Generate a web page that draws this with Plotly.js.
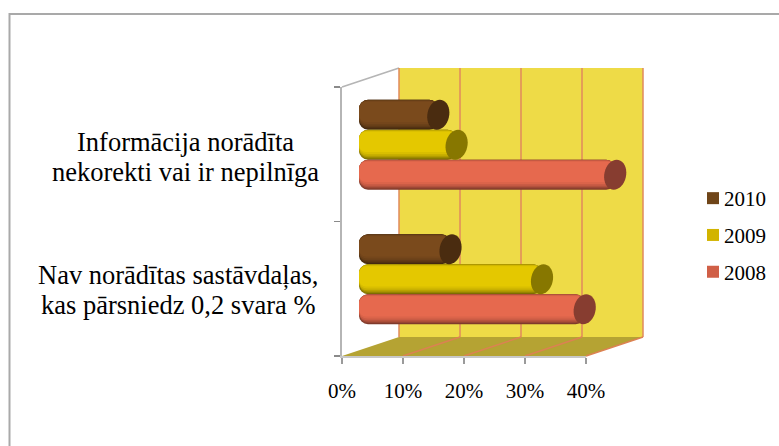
<!DOCTYPE html>
<html><head><meta charset="utf-8">
<script src="https://cdn.plot.ly/plotly-3.0.0.min.js"></script>
<style>html,body{margin:0;padding:0;background:#fff}#c{width:779px;height:446px}</style>
</head><body><div id="c"></div>
<script>
var categories = ["Nav norādītas sastāvdaļas, kas pārsniedz 0,2 svara %", "Informācija norādīta nekorekti vai ir nepilnīga"];
var categoryLines = [["Nav norādītas sastāvdaļas,", "kas pārsniedz 0,2 svara %"], ["Informācija norādīta", "nekorekti vai ir nepilnīga"]];
var years = ["2008", "2009", "2010"];
var values2008 = [37, 42];
var values2009 = [30, 16];
var values2010 = [15, 13];
var xTicks = [0, 10, 20, 30, 40];

var W = 779, H = 446;
var FONT = '"Liberation Serif","Times New Roman",serif';
var px = function (x) { return x / W; }, py = function (y) { return (H - y) / H; };
var X0 = 342, X40 = 586, YT = 87, YB = 356, DX = 57, DY = 19, BX = 359, BSHIFT = 9.5;
var sx = (X40 - X0) / 40, sy = (YB - YT) / 2;
var barH = 30 / sy;
var series = [
  { name: years[2], v: values2010, rgb: [122, 74, 28], cap: '#4a2c10', legend: '#6f4518', c: barH },
  { name: years[1], v: values2009, rgb: [228, 200, 0], cap: '#877700', legend: '#d2b400', c: 0 },
  { name: years[0], v: values2008, rgb: [230, 105, 78], cap: '#873d30', legend: '#d05f47', c: -barH }
];
var layers = [
  [0, 1, .55, 9], [0, .96, .66, 9], [.01, .92, .78, 9], [.02, .87, .88, 8],
  [.04, .81, .95, 8], [.07, .74, 1, 7]
];
function shade(rgb, f) { return 'rgb(' + rgb.map(function (c) { return Math.round(c * f); }).join(',') + ')'; }

// keeps the front axes drawn; the bars live on the depth-shifted axes x2/y2
var traces = [{ type: 'scatter', x: [null], y: [null], xaxis: 'x', yaxis: 'y', showlegend: false, hoverinfo: 'skip' }];
series.forEach(function (s) {
  traces.push({ type: 'bar', orientation: 'h', name: s.name, xaxis: 'x2', yaxis: 'y2', x: [null], y: [null],
    marker: { color: s.legend, line: { width: 0 } }, legendgroup: s.name, showlegend: true, hoverinfo: 'skip' });
  layers.forEach(function (l) {
    var w = (l[1] - l[0]) * barH;
    traces.push({
      type: 'bar', orientation: 'h', name: s.name, xaxis: 'x2', yaxis: 'y2',
      y: categories.map(function (_, k) { return k; }),
      base: s.v, x: s.v.map(function (v) { return -v; }),   // drawn end-to-origin so the rounded end sits at the axis
      width: w, offset: s.c + barH / 2 - l[0] * barH - w,
      marker: { color: shade(s.rgb, l[2]), cornerradius: l[3], line: { width: 0 } },
      showlegend: false, legendgroup: s.name, hoverinfo: 'skip'
    });
  });
});

var shapes = [];
function poly(pts, fill, line) {
  shapes.push({ type: 'path', xref: 'paper', yref: 'paper', layer: 'below', fillcolor: fill || 'rgba(0,0,0,0)',
    line: line || { width: 0 },
    path: 'M' + pts.map(function (p) { return px(p[0]) + ',' + py(p[1]); }).join('L') + (fill ? 'Z' : '') });
}
var grid = { color: '#e08a5c', width: 1.5 };
poly([[9.5, 446], [9.5, 14], [779, 14]], null, { color: '#a9a9a9', width: 2 });
poly([[X0 + DX, YT - DY], [X40 + DX, YT - DY], [X40 + DX, YB - DY], [X0 + DX, YB - DY]], '#eedb47');
poly([[X0, YB], [X0 + DX, YB - DY], [X40 + DX, YB - DY], [X40, YB]], '#b5a333');
poly([[X0, YT], [X0 + DX, YT - DY]], null, { color: '#b5b5b5', width: 1.5 });
xTicks.forEach(function (t) {
  var x = X0 + t * sx;
  poly([[x + DX, YT - DY], [x + DX, YB - DY]], null, grid);
  if (t > 0) poly([[x, YB], [x + DX, YB - DY]], null, { color: '#dc8252', width: 1.5 });
});
series.forEach(function (s) {
  s.v.forEach(function (v, k) {
    var pts = [], n = 36;
    for (var i = 0; i < n; i++) {
      var a = 2 * Math.PI * i / n, ex = 11 * Math.cos(a), ey = 15 * Math.sin(a);
      pts.push([v + (ex + ey * 0.1) / sx, k + s.c + ey / sy]);
    }
    shapes.push({ type: 'path', xref: 'x2', yref: 'y2', layer: 'above', fillcolor: s.cap, line: { width: 0 },
      path: 'M' + pts.map(function (p) { return p[0] + ',' + p[1]; }).join('L') + 'Z' });
  });
});

var annX = [177.5, 185], annY = [[275, 305], [142, 172]];
var annotations = [];
categoryLines.forEach(function (lines, k) {
  lines.forEach(function (t, j) {
    annotations.push({ text: t, xref: 'paper', yref: 'paper', x: px(annX[k]), y: py(annY[k][j]), xanchor: 'center', yanchor: 'middle',
      showarrow: false, font: { family: FONT, size: 26.5, color: '#000' } });
  });
});

var layout = {
  width: W, height: H, margin: { l: 0, r: 0, t: 0, b: 0 }, paper_bgcolor: '#fff', plot_bgcolor: 'rgba(0,0,0,0)',
  barmode: 'overlay', font: { family: FONT, size: 21, color: '#000' },
  xaxis: { domain: [px(X0), px(X40)], range: [0, 40], anchor: 'y', tickvals: xTicks, ticktext: xTicks.map(function (t) { return t + '%'; }),
    ticks: 'outside', ticklen: 6, tickcolor: '#9a9a9a', tickwidth: 1.5, showgrid: false, zeroline: false, showline: true, linecolor: '#c8c8c8', linewidth: 1.5,
    ticklabelstandoff: 9, tickfont: { family: FONT, size: 21 } },
  yaxis: { domain: [py(YB), py(YT)], range: [0, 2], anchor: 'x', tickvals: [0, 1, 2], showticklabels: false,
    ticks: 'outside', ticklen: 6, tickcolor: '#8a8a8a', tickwidth: 1.5, showgrid: false, zeroline: false, showline: true, linecolor: '#b5b5b5', linewidth: 2.5 },
  xaxis2: { domain: [px(BX), px(BX + 46 * sx)], range: [0, 46], anchor: 'y2', visible: false, fixedrange: true },
  yaxis2: { domain: [py(YB - BSHIFT), py(YT - BSHIFT)], range: [-0.5, 1.5], anchor: 'x2', visible: false, fixedrange: true },
  legend: { x: px(684), y: py(178), xanchor: 'left', yanchor: 'top', traceorder: 'grouped', tracegroupgap: 6.5, bgcolor: 'rgba(0,0,0,0)', font: { family: FONT, size: 21 } },
  shapes: shapes, annotations: annotations
};
Plotly.newPlot('c', traces, layout, { displayModeBar: false, staticPlot: true }).then(function (gd) {
  gd.querySelectorAll('.legend .legendpoints').forEach(function (g) { g.setAttribute('transform', 'translate(9,0)'); });
});
</script></body></html>
